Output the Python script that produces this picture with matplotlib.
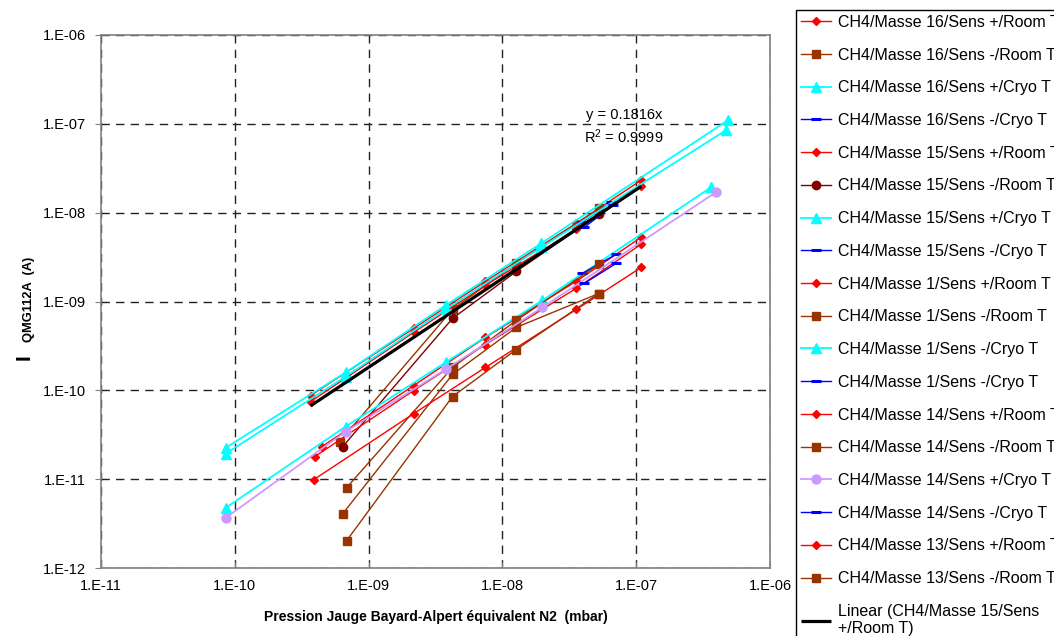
import numpy as np
import matplotlib
matplotlib.use("Agg")
import matplotlib.pyplot as plt
from matplotlib.ticker import FixedLocator, FuncFormatter, NullLocator

plt.rcParams['font.family'] = ['Liberation Sans', 'DejaVu Sans']
plt.rcParams['mathtext.fontset'] = 'custom'
plt.rcParams['mathtext.rm'] = 'Liberation Sans'
plt.rcParams['mathtext.it'] = 'Liberation Sans:italic'
plt.rcParams['mathtext.bf'] = 'Liberation Sans:bold'

# ---------------- data (pressure mbar, current A) ----------------
m16p_room_x = [3.69e-10, 2.17e-9, 7.47e-9, 3.57e-8, 1.09e-7]
m16p_room_y = [8.74e-11, 4.98e-10, 1.69e-9, 7.59e-9, 2.32e-8]
m16m_room_x = [5.30e-8, 1.27e-8, 4.24e-9, 6.08e-10]
m16m_room_y = [1.12e-8, 2.69e-9, 8.14e-10, 2.65e-11]
m16p_cryo_x = [8.57e-11, 6.73e-10, 3.76e-9, 1.95e-8, 4.86e-7]
m16p_cryo_y = [2.26e-11, 1.59e-10, 9.04e-10, 4.52e-9, 1.10e-7]
m16m_cryo_x = [3.95e-8, 6.50e-8]
m16m_cryo_y = [7.79e-9, 1.31e-8]

m15p_room_x = [3.69e-10, 2.17e-9, 7.47e-9, 3.57e-8, 1.09e-7]
m15p_room_y = [7.48e-11, 4.49e-10, 1.52e-9, 6.50e-9, 1.99e-8]
m15m_room_x = [5.30e-8, 1.27e-8, 4.24e-9, 6.40e-10]
m15m_room_y = [9.59e-9, 2.18e-9, 6.45e-10, 2.32e-11]
m15p_cryo_x = [8.57e-11, 6.73e-10, 3.76e-9, 1.95e-8, 4.70e-7]
m15p_cryo_y = [1.94e-11, 1.43e-10, 8.14e-10, 4.07e-9, 8.49e-8]
m15m_cryo_x = [4.09e-8, 6.73e-8]
m15m_cryo_y = [6.85e-9, 1.21e-8]

m1p_room_x = [4.46e-10, 2.17e-9, 7.47e-9, 3.57e-8, 1.09e-7]
m1p_room_y = [2.32e-11, 1.13e-10, 3.94e-10, 1.69e-9, 5.28e-9]
m1m_room_x = [5.25e-8, 1.27e-8, 4.24e-9, 6.40e-10]
m1m_room_y = [1.23e-9, 5.11e-10, 1.51e-10, 4.08e-12]
m1m_cryoA_x = [8.57e-11, 6.73e-10, 3.76e-9, 1.99e-8, 3.63e-7]
m1m_cryoA_y = [4.77e-12, 3.91e-11, 2.06e-10, 1.03e-9, 1.93e-8]
m1m_cryoB_x = [3.95e-8, 7.10e-8]
m1m_cryoB_y = [2.07e-9, 3.40e-9]

m14p_room_x = [3.95e-10, 2.17e-9, 7.47e-9, 3.57e-8, 1.09e-7]
m14p_room_y = [1.79e-11, 9.95e-11, 3.28e-10, 1.41e-9, 4.41e-9]
m14m_room_x = [5.25e-8, 1.27e-8, 4.24e-9, 6.85e-10]
m14m_room_y = [2.62e-9, 6.12e-10, 1.81e-10, 8.02e-12]
m14p_cryo_x = [8.57e-11, 6.73e-10, 3.76e-9, 1.99e-8, 3.95e-7]
m14p_cryo_y = [3.68e-12, 3.43e-11, 1.72e-10, 8.57e-10, 1.70e-8]
m14m_cryo_x = [4.09e-8, 7.10e-8]
m14m_cryo_y = [1.60e-9, 2.69e-9]

m13p_room_x = [3.89e-10, 2.17e-9, 7.47e-9, 3.57e-8, 1.09e-7]
m13p_room_y = [9.87e-12, 5.47e-11, 1.81e-10, 8.14e-10, 2.42e-9]
m13m_room_x = [5.25e-8, 1.27e-8, 4.24e-9, 6.85e-10]
m13m_room_y = [1.23e-9, 2.88e-10, 8.51e-11, 2.03e-12]

fit_slope = 0.1816
fit_r2 = 0.9999

series_labels = [
    "CH4/Masse 16/Sens +/Room T", "CH4/Masse 16/Sens -/Room T",
    "CH4/Masse 16/Sens +/Cryo T", "CH4/Masse 16/Sens -/Cryo T",
    "CH4/Masse 15/Sens +/Room T", "CH4/Masse 15/Sens -/Room T",
    "CH4/Masse 15/Sens +/Cryo T", "CH4/Masse 15/Sens -/Cryo T",
    "CH4/Masse 1/Sens +/Room T", "CH4/Masse 1/Sens -/Room T",
    "CH4/Masse 1/Sens -/Cryo T", "CH4/Masse 1/Sens -/Cryo T",
    "CH4/Masse 14/Sens +/Room T", "CH4/Masse 14/Sens -/Room T",
    "CH4/Masse 14/Sens +/Cryo T", "CH4/Masse 14/Sens -/Cryo T",
    "CH4/Masse 13/Sens +/Room T", "CH4/Masse 13/Sens -/Room T",
]
fit_label = "Linear (CH4/Masse 15/Sens\n+/Room T)"

# ---------------- styles ----------------
RED, BROWN, CYAN, BLUE, DRED, LAV = "#FF0000", "#993300", "#00FFFF", "#0000FF", "#800000", "#CC99FF"
sty_red = dict(color=RED, marker="D", ms=4.5, lw=1.0)
sty_brown = dict(color=BROWN, marker="s", ms=5.5, lw=1.0)
sty_cyan = dict(color=CYAN, marker="^", ms=6.5, lw=1.3)
sty_blue = dict(color=BLUE, marker="_", ms=7, mew=2.2, lw=1.0)
sty_dred = dict(color=DRED, marker="o", ms=6, lw=1.0)
sty_lav = dict(color=LAV, marker="o", ms=6.5, lw=1.3)

series = [
    (m16p_room_x, m16p_room_y, sty_red), (m16m_room_x, m16m_room_y, sty_brown),
    (m16p_cryo_x, m16p_cryo_y, sty_cyan), (m16m_cryo_x, m16m_cryo_y, sty_blue),
    (m15p_room_x, m15p_room_y, sty_red), (m15m_room_x, m15m_room_y, sty_dred),
    (m15p_cryo_x, m15p_cryo_y, sty_cyan), (m15m_cryo_x, m15m_cryo_y, sty_blue),
    (m1p_room_x, m1p_room_y, sty_red), (m1m_room_x, m1m_room_y, sty_brown),
    (m1m_cryoA_x, m1m_cryoA_y, sty_cyan), (m1m_cryoB_x, m1m_cryoB_y, sty_blue),
    (m14p_room_x, m14p_room_y, sty_red), (m14m_room_x, m14m_room_y, sty_brown),
    (m14p_cryo_x, m14p_cryo_y, sty_lav), (m14m_cryo_x, m14m_cryo_y, sty_blue),
    (m13p_room_x, m13p_room_y, sty_red), (m13m_room_x, m13m_room_y, sty_brown),
]

W, H = 1054, 636
fig = plt.figure(figsize=(W / 100, H / 100), dpi=100)
ax = fig.add_axes([101 / W, (H - 568) / H, (770 - 101) / W, (568 - 35) / H])

handles = []
for (x, y, st), lab in zip(series, series_labels):
    h, = ax.plot(x, y, label=lab, **st)
    handles.append(h)

fx = np.array([min(m15p_room_x), max(m15p_room_x)])
hfit, = ax.plot(fx, fit_slope * fx, color="black", lw=2.3, solid_capstyle="butt", label=fit_label)
handles.append(hfit)

ax.set_xscale("log")
ax.set_yscale("log")
ax.set_xlim(1e-11, 1e-6)
ax.set_ylim(1e-12, 1e-6)

decx = [10.0 ** k for k in range(-11, -5)]
decy = [10.0 ** k for k in range(-12, -5)]
ax.xaxis.set_major_locator(FixedLocator(decx))
ax.yaxis.set_major_locator(FixedLocator(decy))
ax.xaxis.set_minor_locator(NullLocator())
ax.yaxis.set_minor_locator(NullLocator())
fmt = FuncFormatter(lambda v, p: "1.E-%02d" % int(round(-np.log10(v))))
ax.xaxis.set_major_formatter(fmt)
ax.yaxis.set_major_formatter(fmt)
ax.tick_params(axis="both", labelsize=10.5, colors="black")
ax.tick_params(axis="y", direction="out", length=4, color="#808080", pad=7)
ax.tick_params(axis="x", direction="in", length=4, color="#808080", pad=8)

ax.grid(True, which="major", color="#222222", lw=1.0, linestyle=(0, (6, 4.5)))
ax.set_axisbelow(True)
for s in ax.spines.values():
    s.set_color("#808080")
    s.set_linewidth(1.2)

ax.set_xlabel("Pression Jauge Bayard-Alpert équivalent N2  (mbar)", fontsize=10,
              fontweight="bold", labelpad=12)

fig.text(24 / W, 1 - 357 / H, "I", rotation=90, fontsize=15, fontweight="bold",
         ha="center", va="center")
fig.text(29 / W, 1 - 299 / H, "QMG112A  (A)", rotation=90, fontsize=9.3, fontweight="bold",
         ha="center", va="center")

ax.text(624 / W, 1 - 115 / H, "y = %.4fx" % fit_slope, transform=fig.transFigure,
        fontsize=10.5, ha="center", va="center")
ax.text(624 / W, 1 - 137 / H, "R$^2$ = %.4f" % fit_r2, transform=fig.transFigure,
        fontsize=10.5, ha="center", va="center")

leg = fig.legend(handles, series_labels + [fit_label], loc="upper left",
                 bbox_to_anchor=(796 / W, 1 - 10 / H), fontsize=11.5, frameon=True,
                 fancybox=False, edgecolor="black", framealpha=1, borderaxespad=0,
                 labelspacing=1.11, handlelength=1.9, handletextpad=0.4, borderpad=0.3)
leg.get_frame().set_linewidth(1.0)

fig.savefig("out.png", dpi=100)
